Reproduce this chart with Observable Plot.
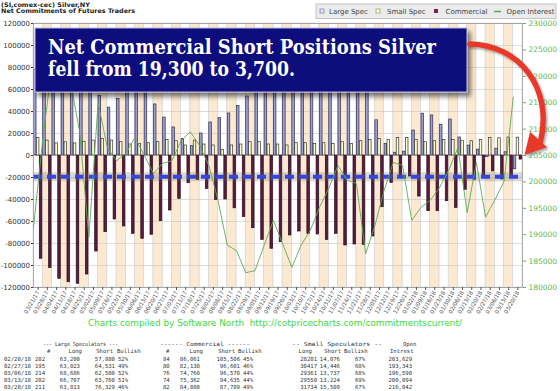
<!DOCTYPE html>
<html><head><meta charset="utf-8">
<script src="https://cdn.jsdelivr.net/npm/d3@7"></script>
<script src="https://cdn.jsdelivr.net/npm/@observablehq/plot@0.6"></script>
<style>
body{margin:0;background:#fff;}
#wrap{position:relative;width:560px;height:391px;overflow:hidden;background:#fff;}
#wrap svg{position:absolute;left:0;top:0;}
</style>
</head><body><div id="wrap"></div>
<script>
const dates = ["03/21/17","03/28/17","04/04/17","04/11/17","04/18/17","04/25/17","05/02/17","05/09/17","05/16/17","05/23/17","05/30/17","06/06/17","06/13/17","06/20/17","06/27/17","07/03/17","07/11/17","07/18/17","07/25/17","08/01/17","08/08/17","08/15/17","08/22/17","08/29/17","09/05/17","09/12/17","09/19/17","09/26/17","10/03/17","10/10/17","10/17/17","10/24/17","10/31/17","11/07/17","11/14/17","11/21/17","11/28/17","12/05/17","12/12/17","12/19/17","12/26/17","01/02/18","01/09/18","01/16/18","01/23/18","01/30/18","02/06/18","02/13/18","02/20/18","02/27/18","03/06/18","03/13/18","03/20/18"];
const largeSpec = [78000,89000,101000,103000,105500,96000,73700,54000,43500,51500,
  61200,65100,60900,46400,34500,25500,15000,8500,20000,30000,
  34000,38200,45000,53600,64600,74800,68800,63600,57900,60000,
  61200,65500,60600,69700,70300,68200,59400,32000,10700,2500,
  3500,22700,38000,36400,28000,32700,16400,9000,5320,-1508,
  6186,2947,-12516];
const smallSpec = [16000,13500,11000,12000,11000,12500,13600,15100,13600,12100,
  10000,10600,11200,12100,14200,13000,9100,13600,10000,9100,
  5200,9100,10000,12100,12100,10000,10000,9100,11200,11200,
  10600,11200,10600,12100,10600,13000,14200,15100,14200,16000,
  16000,14200,12100,13000,14200,14200,13000,13000,14125,15971,
  15624,16326,16225];
const commercial = [-93900,-102400,-112100,-115200,-116600,-108200,-87300,-69700,-58200,-64500,
  -71200,-75700,-72100,-59700,-50000,-39400,-25200,-22100,-30300,-40300,
  -40000,-48000,-56000,-66100,-76700,-84800,-78800,-72700,-69100,-71200,
  -71800,-76700,-71200,-81800,-80900,-81200,-73600,-47000,-24900,-18800,
  -19100,-37300,-50600,-50600,-41500,-47600,-31200,-22100,-19445,-14471,
  -21810,-19273,-3709];
const openInterest = [191400,208000,222000,222000,219000,209500,189500,215000,206500,204000,
  205400,208400,205000,201600,203500,204000,207800,209500,206900,203100,
  196500,188000,187000,182800,183200,188000,192700,188300,183800,188000,
  190800,195200,198800,203100,200300,199700,186400,191700,198400,203700,
  203100,192700,195200,196500,198900,202200,206500,194200,203629,193343,
  196590,200094,216042];
const leftTicks = [-120000,-100000,-80000,-60000,-40000,-20000,0,20000,40000,60000,80000,100000,120000];
const rightTicks = [180000,185000,190000,195000,200000,205000,210000,215000,220000,225000,230000];
const commFrom = -19300;

const titleLines = ["(SI,comex-cec) Silver,NY","Net Commitments of Futures Traders"];
const legendItems = ["Large Spec","Small Spec","Commercial","Open Interest"];
const noteLines = ["Net Commercial Short Positions Silver","fell from 19,300 to 3,700."];
const creditText = "Charts compiled by Software North  http://cotpricecharts.com/commitmentscurrent/";

const tblHead1 = ["--- Large Speculators ---","------ Commercial ------","-- Small Speculators --","Open"];
const tblHead2 = ["#","Long","Short","Bullish","#","Long","Short","Bullish","Long","Short","Bullish","Intrest"];
const tblDates = ["02/20/18","02/27/18","03/06/18","03/13/18","03/20/18"];
const lsCount = ["202","195","214","202","211"];
const lsLong = ["63,200","63,023","68,686","66,707","63,813"];
const lsShort = ["57,880","64,531","62,500","63,760","76,329"];
const lsBull = ["52%","49%","52%","51%","46%"];
const cCount = ["84","80","76","74","82"];
const cLong = ["86,061","82,130","74,760","75,362","84,080"];
const cShort = ["105,506","96,601","96,570","94,635","87,789"];
const cBull = ["45%","46%","44%","44%","49%"];
const ssLong = ["28201","30417","29361","29550","31734"];
const ssShort = ["14,076","14,446","13,737","13,224","15,509"];
const ssBull = ["67%","68%","68%","69%","67%"];
const oiTable = ["203,629","193,343","196,590","200,094","216,042"];

const oiMid = 205000, oiRatio = 4.8;
const toLeft = v => (v - oiMid) * oiRatio;
const rows = dates.map((date,i)=>({date, large: largeSpec[i], small: smallSpec[i], comm: commercial[i], oi: openInterest[i]}));

const chart = Plot.plot({
  width: 560, height: 320,
  marginTop: 23, marginBottom: 33, marginLeft: 33, marginRight: 38,
  style: {fontFamily: "DejaVu Sans, sans-serif", fontSize: "7px", color: "#333", background: "transparent", overflow: "visible"},
  x: {type: "band", domain: dates, padding: 0, round: false},
  y: {domain: [-120000, 120000]},
  marks: [
    Plot.cell(dates.filter((d,i)=>i%2===1), {x: d=>d, fill: "#fde9cf"}),
    Plot.cell(dates, {x: d=>d, fill: "none", stroke: "#d8d8d8", strokeWidth: 0.6}),
    Plot.gridY(leftTicks, {stroke: "#c4c4c4", strokeOpacity: 1, strokeWidth: 0.6}),
    Plot.barY(rows, {x:"date", y:"large", insetLeft:0.5, insetRight:6.2, fill:"#9d9dd2", stroke:"#2e2e4a", strokeWidth:0.7}),
    Plot.barY(rows, {x:"date", y:"small", insetLeft:3.4, insetRight:3.3, fill:"#ffffcc", stroke:"#333", strokeWidth:0.7}),
    Plot.barY(rows, {x:"date", y:"comm", insetLeft:6.3, insetRight:0.4, fill:"#5b1b3f", stroke:"#2b0a1c", strokeWidth:0.7}),
    Plot.ruleY([commFrom], {stroke:"#666", strokeWidth:9, strokeOpacity:0.25}),
    Plot.ruleY([commFrom], {stroke:"#3346e0", strokeWidth:4, strokeDasharray:"9,5"}),
    Plot.lineY(rows, {x:"date", y: d=>toLeft(d.oi), stroke:"#5eaa55", strokeWidth:0.9, dx:-4.6}),
    Plot.frame({stroke:"#999", strokeWidth:0.8}),
    Plot.axisY(leftTicks, {anchor:"left", tickSize:2, tickPadding:1.5, tickFormat: d=>String(d), label:null, fontSize:7}),
    Plot.axisY(rightTicks.map(toLeft), {anchor:"right", tickSize:3, tickPadding:3, tickFormat: v=>String(Math.round(v/oiRatio+oiMid)), label:null, color:"#5cb85c", fontSize:7.5}),
    Plot.axisX({tickRotate:-60, tickSize:3, tickPadding:1, fontSize:5.6, label:null, color:"#555"})
  ]
});
const wrap = document.getElementById("wrap");
wrap.appendChild(chart);

const sx = chart.scale("x"), sy = chart.scale("y");
const bw = sx.bandwidth;

const o = d3.create("svg").attr("width",560).attr("height",391);
const defs = o.append("defs");
defs.append("filter").attr("id","sh").attr("x","-10%").attr("y","-20%").attr("width","130%").attr("height","160%")
  .append("feDropShadow").attr("dx",3).attr("dy",4).attr("stdDeviation",2.5).attr("flood-color","#000").attr("flood-opacity",0.55);
defs.append("filter").attr("id","sh2")
  .append("feDropShadow").attr("dx",1.5).attr("dy",2).attr("stdDeviation",1.2).attr("flood-color","#000").attr("flood-opacity",0.35);

// title
o.append("g").attr("font-family","DejaVu Sans").attr("font-weight","bold").attr("font-size",6.3).attr("fill","#222")
  .selectAll("text").data(titleLines).join("text")
  .attr("x",1).attr("y",(d,i)=>6.5+i*6).attr("textLength",(d,i)=>i?134:89).attr("lengthAdjust","spacingAndGlyphs").text(d=>d);

// legend
const lg = o.append("g");
lg.append("rect").attr("x",316).attr("y",4).attr("width",240).attr("height",14.5).attr("fill","#ebebeb").attr("stroke","#c4c4c4");
const lgX = [329,387,445.5,506.5];
lg.append("rect").attr("x",320).attr("y",9).attr("width",4).attr("height",4).attr("fill","#e2e2f2").attr("stroke","#8888bb").attr("stroke-width",0.8);
lg.append("rect").attr("x",376).attr("y",9).attr("width",4).attr("height",4).attr("fill","#ffffd8").attr("stroke","#a0a070").attr("stroke-width",0.8);
lg.append("rect").attr("x",434).attr("y",9).attr("width",4).attr("height",4).attr("fill","#7a2050");
lg.append("line").attr("x1",494).attr("x2",501).attr("y1",11.5).attr("y2",11.5).attr("stroke","#55aa55").attr("stroke-width",1.5);
lg.selectAll("text").data(legendItems).join("text").attr("x",(d,i)=>lgX[i]).attr("y",13.8)
  .attr("font-family","DejaVu Sans").attr("font-size",7).attr("fill","#444").text(d=>d);

// annotation box
const bx = 35, by = 28, bwid = 432, bh = 64;
o.append("rect").attr("x",bx).attr("y",by).attr("width",bwid).attr("height",bh).attr("fill","#0b0b7e")
  .attr("stroke","#c0c0dc").attr("stroke-width",1).attr("filter","url(#sh)");
o.append("g").attr("font-family","DejaVu Serif").attr("font-weight","bold").attr("font-size",19.5).attr("fill","#fff")
  .selectAll("text").data(noteLines).join("text").attr("x",48).attr("y",(d,i)=>54+i*22)
  .attr("textLength",(d,i)=>i?247:388).attr("lengthAdjust","spacingAndGlyphs").text(d=>d);

// red arrow pointing at last commercial bar
const tx = sx.apply(dates[dates.length-1]) + bw + 2.5, ty = sy.apply(0);
const dir = [-0.67, 0.74], hl = 21, hw = 11.5;
const bcx = tx - dir[0]*hl, bcy = ty - dir[1]*hl;
const ag = o.append("g").attr("filter","url(#sh2)");
ag.append("path").attr("d",`M${bx+bwid+3},44 C520,45 553,88 ${bcx+2},${bcy+2}`).attr("fill","none")
  .attr("stroke","#e8392b").attr("stroke-width",5.5).attr("stroke-linecap","round");
ag.append("polygon").attr("points",[[tx,ty],[bcx+dir[1]*hw,bcy-dir[0]*hw],[bcx-dir[1]*hw,bcy+dir[0]*hw]].map(p=>p.join(",")).join(" "))
  .attr("fill","#e8392b");

// credit
o.append("text").attr("x",88).attr("y",326).attr("font-family","DejaVu Sans").attr("font-size",8).attr("fill","#3ed83e")
  .attr("textLength",374).attr("lengthAdjust","spacingAndGlyphs").attr("xml:space","preserve").style("white-space","pre").text(creditText);

// table
const tg = o.append("g").attr("font-family","DejaVu Sans Mono").attr("font-size",5.6).attr("fill","#333");
const base = [346,353,360.5,367.8,375,382.2,389];
const h1x = [43,160,292,403], h1len = [75,90,90,null];
tblHead1.forEach((t,i)=>{const e=tg.append("text").attr("x",h1x[i]).attr("y",base[0]).text(t); if(h1len[i]) e.attr("textLength",h1len[i]).attr("lengthAdjust","spacingAndGlyphs");});
const h2x = [47,82,113,117,166,203,235,238,312,341,344,390];
const h2a = ["start","end","end","start","start","end","end","start","end","end","start","start"];
tblHead2.forEach((t,i)=>tg.append("text").attr("x",h2x[i]).attr("y",base[1]).attr("text-anchor",h2a[i]).text(t));
const cols = [
  [tblDates,4,"start"],[lsCount,45,"end"],[lsLong,80,"end"],[lsShort,115,"end"],[lsBull,118,"start"],
  [cCount,163,"start"],[cLong,200,"end"],[cShort,240,"end"],[cBull,243,"start"],
  [ssLong,317,"end"],[ssShort,340,"end"],[ssBull,355,"start"],[oiTable,412,"end"]];
tblDates.forEach((d,r)=>cols.forEach(([arr,x,anc])=>tg.append("text").attr("x",x).attr("y",base[r+2]).attr("text-anchor",anc).text(arr[r])));

wrap.appendChild(o.node());
</script></body></html>
